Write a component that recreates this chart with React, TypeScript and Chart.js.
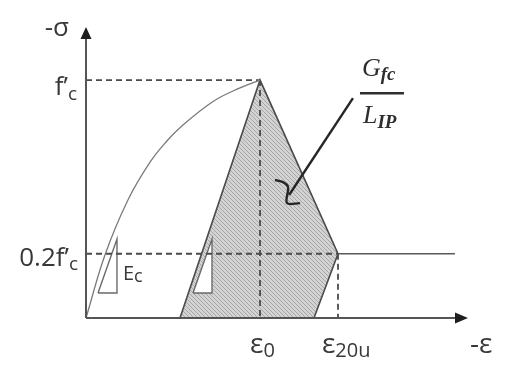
import React, { useEffect, useRef } from "react";
import { Chart, registerables } from "chart.js";

Chart.register(...registerables);

// Normalised stress–strain model (strain / ε0, stress / f'c)
const curveStrain = [0, 0.109, 0.241, 0.368, 0.466, 0.54, 0.73, 0.885, 1];
const curveStress = [0, 0.265, 0.496, 0.655, 0.745, 0.8, 0.91, 0.967, 1];

const peakStrain = 1; // ε0
const peakStress = 1; // f'c
const residualStress = 0.27; // 0.2f'c plateau level
const residualStrain = 1.448; // ε20u
const plateauEnd = 2.12;

// Fracture-energy region Gfc / LIP
const areaStrain = [0.54, 1, 1.448, 1.31, 0.54];
const areaStress = [0, 1, 0.27, 0, 0];

// Stiffness triangles (Ec)
const triLoadStrain = [0.069, 0.178, 0.178, 0.069];
const triUnloadStrain = [0.615, 0.724, 0.724, 0.615];
const triStress = [0.105, 0.332, 0.105, 0.105];

// Leader from the Gfc/LIP label into the shaded region
const leaderStrain = [1.534, 1.167];
const leaderStress = [0.924, 0.517];
const hookStrain = [1.086, 1.132, 1.161, 1.155, 1.23];
const hookStress = [0.58, 0.571, 0.55, 0.483, 0.483];

const xMax = 2.195;
const yMax = 1.223;

const pts = (xs: number[], ys: number[]) => xs.map((x, i) => ({ x, y: ys[i] }));

const INK = "#4a4a4a";
const TEXT = "#383838";
const SANS = '"Open Sans", "DejaVu Sans", sans-serif';
const SERIF = '"Liberation Serif", "DejaVu Serif", serif';

function hatch(): CanvasPattern | string {
  const c = document.createElement("canvas");
  c.width = 4;
  c.height = 4;
  const g = c.getContext("2d");
  if (!g) return "#c2c2c2";
  g.fillStyle = "#d3d3d3";
  g.fillRect(0, 0, 4, 4);
  g.strokeStyle = "#a6a6a6";
  g.lineWidth = 1;
  g.beginPath();
  g.moveTo(-1, -1);
  g.lineTo(5, 5);
  g.moveTo(-1, 3);
  g.lineTo(1, 5);
  g.moveTo(3, -1);
  g.lineTo(5, 1);
  g.stroke();
  return g.createPattern(c, "repeat") || "#c2c2c2";
}

function withSub(
  ctx: CanvasRenderingContext2D,
  main: string,
  sub: string,
  x: number,
  base: number,
  mainFont: string,
  subFont: string,
  drop: number,
  align: "left" | "right"
) {
  ctx.font = mainFont;
  const wm = ctx.measureText(main).width;
  ctx.font = subFont;
  const ws = ctx.measureText(sub).width;
  const left = align === "left" ? x : x - wm - ws;
  ctx.textAlign = "left";
  ctx.textBaseline = "alphabetic";
  ctx.font = mainFont;
  ctx.fillText(main, left, base);
  ctx.font = subFont;
  ctx.fillText(sub, left + wm, base + drop);
}

const decorations = {
  id: "decorations",
  afterDatasetsDraw(chart: Chart) {
    const ctx = chart.ctx;
    const xs = chart.scales.x;
    const ys = chart.scales.y;
    const x0 = xs.getPixelForValue(0);
    const y0 = ys.getPixelForValue(0);
    const xt = xs.getPixelForValue(xMax);
    const yt = ys.getPixelForValue(yMax);

    ctx.save();
    // axes with arrowheads
    ctx.strokeStyle = "#555";
    ctx.fillStyle = "#1e1e1e";
    ctx.lineWidth = 2;
    ctx.beginPath();
    ctx.moveTo(x0, y0);
    ctx.lineTo(x0, yt + 8);
    ctx.moveTo(x0, y0);
    ctx.lineTo(xt - 8, y0);
    ctx.stroke();
    ctx.beginPath();
    ctx.moveTo(x0, yt);
    ctx.lineTo(x0 - 5.5, yt + 12);
    ctx.lineTo(x0 + 5.5, yt + 12);
    ctx.closePath();
    ctx.fill();
    ctx.beginPath();
    ctx.moveTo(xt, y0);
    ctx.lineTo(xt - 13, y0 - 5.5);
    ctx.lineTo(xt - 13, y0 + 5.5);
    ctx.closePath();
    ctx.fill();

    ctx.fillStyle = TEXT;
    const big = `26px ${SANS}`;
    const sub = `19px ${SANS}`;
    const eps = `28px ${SANS}`;

    // vertical axis labels
    ctx.font = big;
    ctx.textAlign = "right";
    ctx.textBaseline = "alphabetic";
    ctx.fillText("-σ", x0 - 17, yt + 9);
    withSub(ctx, "f’", "c", x0 - 9, ys.getPixelForValue(peakStress) + 15, big, sub, 5, "right");
    withSub(ctx, "0.2f’", "c", x0 - 8, ys.getPixelForValue(residualStress) + 12, big, sub, 4, "right");

    // stiffness label
    withSub(
      ctx,
      "E",
      "c",
      xs.getPixelForValue(triLoadStrain[1]) + 6,
      ys.getPixelForValue(triStress[0]) - 13,
      `20px ${SANS}`,
      `18px ${SANS}`,
      2,
      "left"
    );

    // horizontal axis labels
    withSub(ctx, "ε", "0", xs.getPixelForValue(peakStrain) - 10, y0 + 35, eps, `20px ${SANS}`, 4, "left");
    withSub(ctx, "ε", "20u", xs.getPixelForValue(residualStrain) - 16, y0 + 35, eps, `20px ${SANS}`, 4, "left");
    ctx.font = eps;
    ctx.textAlign = "left";
    ctx.fillText("-ε", xt + 2, y0 + 35);

    // Gfc / LIP fraction
    const ax = xs.getPixelForValue(leaderStrain[0]);
    const ay = ys.getPixelForValue(leaderStress[0]);
    ctx.fillStyle = "#2e2e2e";
    withSub(ctx, "G", "fc", ax + 9, ay - 22, `italic 26px ${SERIF}`, `italic bold 19px ${SERIF}`, 4, "left");
    ctx.strokeStyle = "#2e2e2e";
    ctx.lineWidth = 2.5;
    ctx.beginPath();
    ctx.moveTo(ax + 7, ay - 5);
    ctx.lineTo(ax + 51, ay - 5);
    ctx.stroke();
    withSub(ctx, "L", "IP", ax + 10, ay + 25, `italic 26px ${SERIF}`, `italic bold 19px ${SERIF}`, 5, "left");
    ctx.restore();
  },
};

export default function App() {
  const ref = useRef<HTMLCanvasElement | null>(null);

  useEffect(() => {
    if (!ref.current) return;
    const dash = [6, 4];
    const chart = new Chart(ref.current, {
      type: "scatter",
      data: {
        datasets: [
          {
            data: pts(areaStrain, areaStress),
            showLine: true,
            fill: "shape",
            backgroundColor: hatch() as any,
            borderColor: INK,
            borderWidth: 1.6,
            pointRadius: 0,
            order: 10,
          },
          {
            data: pts(triLoadStrain, triStress),
            showLine: true,
            fill: "shape",
            backgroundColor: "#ffffff",
            borderColor: "#6a6a6a",
            borderWidth: 1.4,
            pointRadius: 0,
            order: 8,
          },
          {
            data: pts(triUnloadStrain, triStress),
            showLine: true,
            fill: "shape",
            backgroundColor: "#ffffff",
            borderColor: "#6a6a6a",
            borderWidth: 1.4,
            pointRadius: 0,
            order: 8,
          },
          {
            data: pts([0, peakStrain], [peakStress, peakStress]),
            showLine: true,
            borderColor: INK,
            borderWidth: 1.8,
            borderDash: dash,
            pointRadius: 0,
            order: 5,
          },
          {
            data: pts([peakStrain, peakStrain], [peakStress, 0]),
            showLine: true,
            borderColor: INK,
            borderWidth: 1.8,
            borderDash: dash,
            pointRadius: 0,
            order: 5,
          },
          {
            data: pts([0, residualStrain], [residualStress, residualStress]),
            showLine: true,
            borderColor: INK,
            borderWidth: 1.8,
            borderDash: dash,
            pointRadius: 0,
            order: 5,
          },
          {
            data: pts([residualStrain, residualStrain], [residualStress, 0]),
            showLine: true,
            borderColor: INK,
            borderWidth: 1.8,
            borderDash: dash,
            pointRadius: 0,
            order: 5,
          },
          {
            data: pts([residualStrain, plateauEnd], [residualStress, residualStress]),
            showLine: true,
            borderColor: "#5a5a5a",
            borderWidth: 1.4,
            pointRadius: 0,
            order: 1,
          },
          {
            data: pts(curveStrain, curveStress),
            showLine: true,
            tension: 0.4,
            borderColor: "#7a7a7a",
            borderWidth: 1.3,
            pointRadius: 0,
            order: 1,
          },
          {
            data: pts(leaderStrain, leaderStress),
            showLine: true,
            borderColor: "#262626",
            borderWidth: 2.4,
            pointRadius: 0,
            order: 0,
          },
          {
            data: pts(hookStrain, hookStress),
            showLine: true,
            tension: 0.35,
            borderColor: "#262626",
            borderWidth: 2.4,
            pointRadius: 0,
            order: 0,
          },
        ] as any,
      },
      options: {
        animation: false,
        responsive: false,
        devicePixelRatio: 1,
        clip: false as any,
        layout: { padding: { left: 86, top: 27, right: 47, bottom: 51 } },
        scales: {
          x: { type: "linear", min: 0, max: xMax, display: false },
          y: { type: "linear", min: 0, max: yMax, display: false },
        },
        plugins: {
          legend: { display: false },
          tooltip: { enabled: false },
        },
      },
      plugins: [decorations],
    });
    return () => chart.destroy();
  }, []);

  return (
    <div style={{ position: "fixed", left: 0, top: 0, width: 515, height: 369, background: "#fff" }}>
      <canvas ref={ref} width={515} height={369} />
    </div>
  );
}
